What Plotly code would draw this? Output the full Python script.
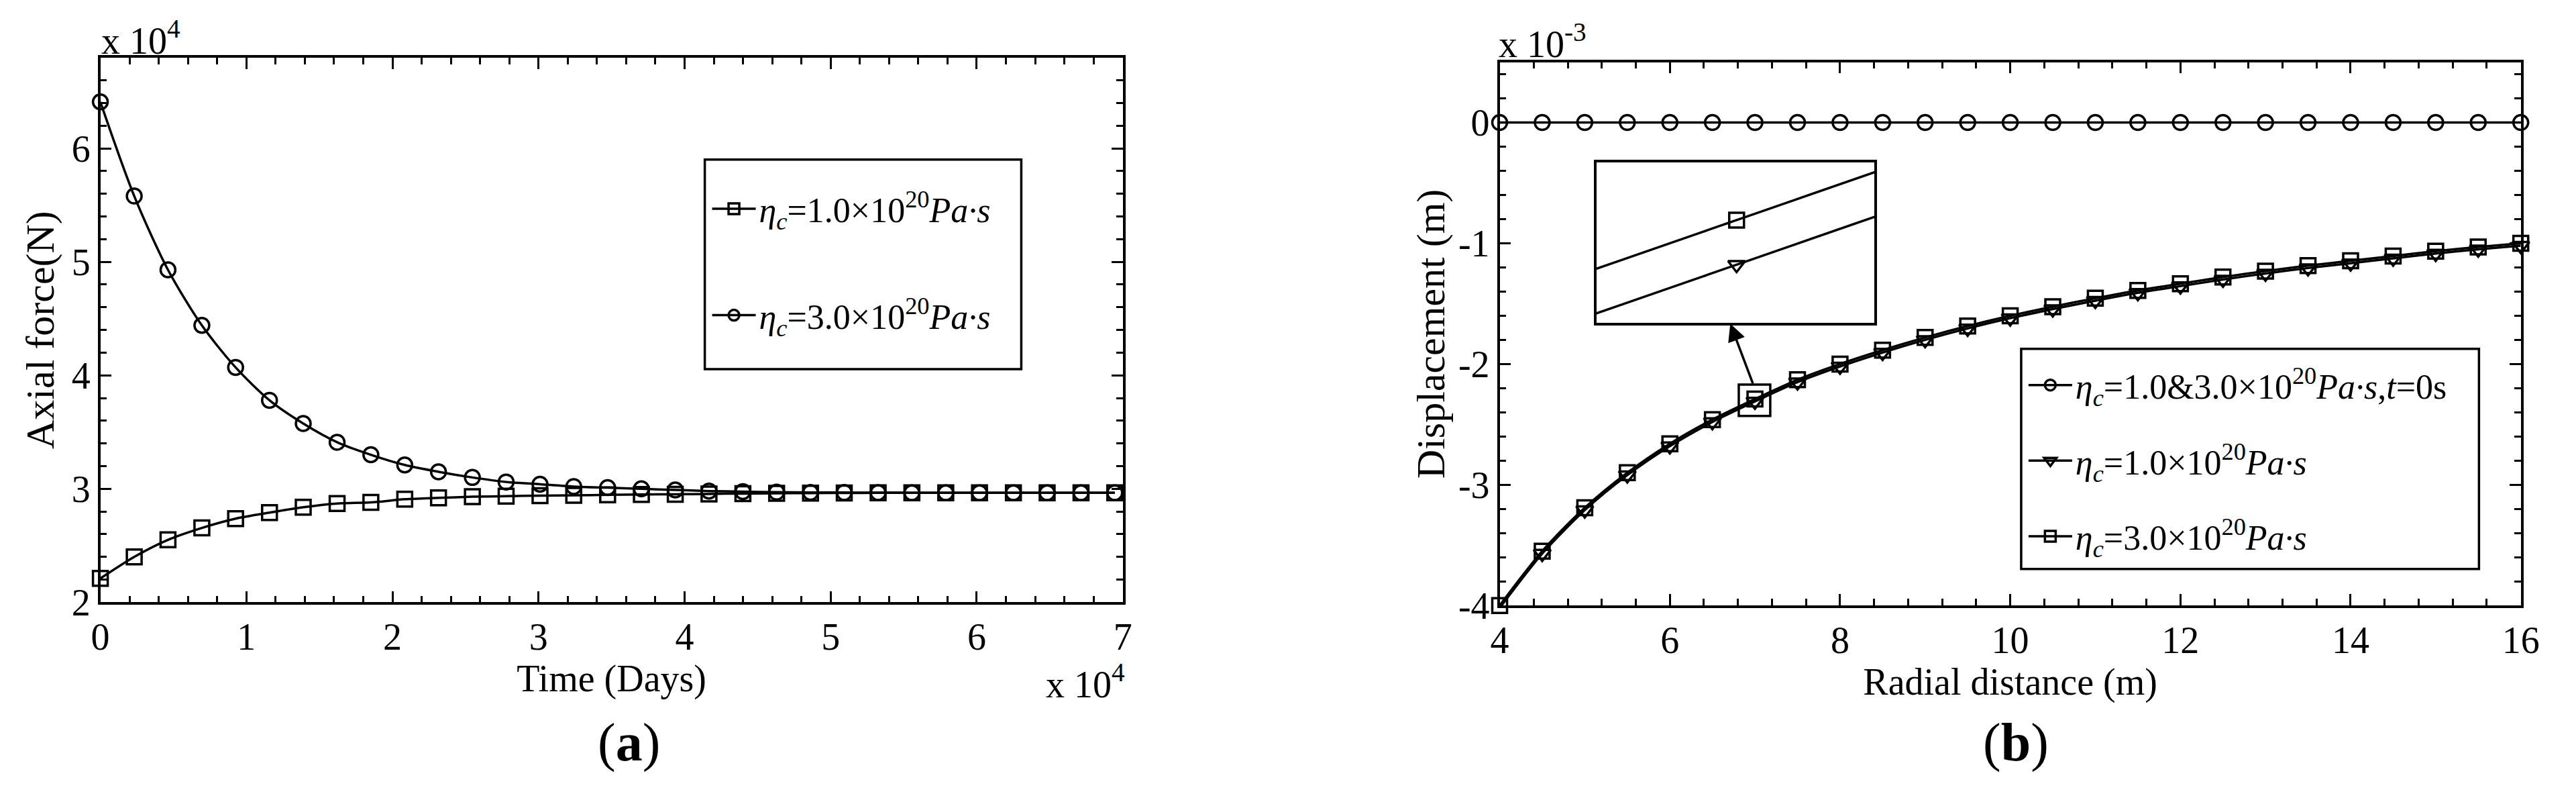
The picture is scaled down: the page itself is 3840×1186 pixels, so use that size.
import plotly.graph_objects as go

SERIF = "Liberation Serif, Times New Roman, serif"

# ---- panel (a): axial force vs time (both axes in units of 1e4) ----
time_days = [0, 0.232, 0.463, 0.695, 0.926, 1.158, 1.389, 1.621, 1.852, 2.084,
             2.315, 2.547, 2.778, 3.010, 3.241, 3.473, 3.704, 3.936, 4.167, 4.399,
             4.630, 4.862, 5.093, 5.325, 5.556, 5.788, 6.019, 6.251, 6.482, 6.714, 6.945]
force_eta1 = [2.21, 2.40, 2.55, 2.655, 2.737, 2.79, 2.837, 2.87, 2.88, 2.908,
              2.92, 2.93, 2.935, 2.94, 2.942, 2.947, 2.95, 2.952, 2.955, 2.958,
              2.96, 2.962, 2.963, 2.964, 2.965, 2.965, 2.965, 2.965, 2.965, 2.965, 2.965]
force_eta3 = [6.41, 5.58, 4.93, 4.44, 4.07, 3.78, 3.575, 3.41, 3.30, 3.21,
              3.15, 3.10, 3.06, 3.04, 3.02, 3.01, 3.00, 2.99, 2.98, 2.975,
              2.97, 2.968, 2.967, 2.966, 2.965, 2.965, 2.965, 2.965, 2.965, 2.965, 2.965]
names_a = ["<i>η</i><sub><i>c</i></sub>=1.0×10<sup>20</sup><i>Pa·s</i>",
           "<i>η</i><sub><i>c</i></sub>=3.0×10<sup>20</sup><i>Pa·s</i>"]

# ---- panel (b): displacement vs radial distance (y in units of 1e-3) ----
radius = [4, 4.5, 5, 5.5, 6, 6.5, 7, 7.5, 8, 8.5, 9, 9.5, 10, 10.5, 11, 11.5,
          12, 12.5, 13, 13.5, 14, 14.5, 15, 15.5, 16]
disp_t0 = [0] * 25
disp_eta1 = [-4.02, -3.57, -3.21, -2.92, -2.68, -2.48, -2.31, -2.15, -2.02, -1.905,
             -1.80, -1.705, -1.62, -1.545, -1.475, -1.41, -1.355, -1.30, -1.25, -1.205,
             -1.165, -1.125, -1.085, -1.05, -1.02]
disp_eta3 = [-4.00, -3.55, -3.19, -2.90, -2.66, -2.46, -2.29, -2.13, -2.00, -1.885,
             -1.78, -1.685, -1.60, -1.525, -1.455, -1.39, -1.335, -1.28, -1.23, -1.185,
             -1.145, -1.105, -1.065, -1.03, -1.00]
names_b = ["<i>η</i><sub><i>c</i></sub>=1.0&amp;3.0×10<sup>20</sup><i>Pa·s</i>,<i>t</i>=0s",
           "<i>η</i><sub><i>c</i></sub>=1.0×10<sup>20</sup><i>Pa·s</i>",
           "<i>η</i><sub><i>c</i></sub>=3.0×10<sup>20</sup><i>Pa·s</i>"]
ytick_b = [-4, -3, -2, -1, 0]
ytext_b = ["-4", "-3", "-2", "-1", "0"]

W, H = 3840, 1186


def px(x):
    return x / W


def py(y):
    return 1 - y / H


def mk(symbol):
    return dict(symbol=symbol, size=22, color="black", line=dict(width=3.5, color="black"))


fig = go.Figure()

line = dict(color="black", width=3.5, shape="spline", smoothing=0.8)

fig.add_trace(go.Scatter(x=time_days, y=force_eta1, mode="lines+markers", name=names_a[0],
                         line=line, marker=mk("square-open"), cliponaxis=False,
                         legend="legend", legendgroup="a1", xaxis="x", yaxis="y"))
fig.add_trace(go.Scatter(x=time_days, y=force_eta3, mode="lines+markers", name=names_a[1],
                         line=line, marker=mk("circle-open"), cliponaxis=False,
                         legend="legend", legendgroup="a2", xaxis="x", yaxis="y"))

fig.add_trace(go.Scatter(x=radius, y=disp_t0, mode="lines+markers", name=names_b[0],
                         line=line, marker=mk("circle-open"), cliponaxis=False,
                         legend="legend2", legendgroup="b1", xaxis="x2", yaxis="y2"))
fig.add_trace(go.Scatter(x=radius, y=disp_eta1, mode="lines+markers", name=names_b[1],
                         line=line, marker=mk("triangle-down-open"), cliponaxis=False,
                         legend="legend2", legendgroup="b2", xaxis="x2", yaxis="y2"))
fig.add_trace(go.Scatter(x=radius, y=disp_eta3, mode="lines+markers", name=names_b[2],
                         line=line, marker=mk("square-open"), cliponaxis=False,
                         legend="legend2", legendgroup="b3", xaxis="x2", yaxis="y2"))

# inset: same two curves magnified around r = 7 m
for yy, sym in ((disp_eta1, "triangle-down-open"), (disp_eta3, "square-open")):
    fig.add_trace(go.Scatter(x=radius, y=yy, mode="lines+markers", showlegend=False,
                             line=line, marker=mk(sym), xaxis="x3", yaxis="y3"))

tickfont = dict(family=SERIF, size=56, color="black")
common = dict(showline=True, linecolor="black", linewidth=3.5, mirror="ticks",
              ticks="inside", ticklen=17, tickwidth=3, tickcolor="black",
              showgrid=False, zeroline=False, tickfont=tickfont)
ytitle_font = dict(family=SERIF, size=60, color="black")
xtitle_font = dict(family=SERIF, size=56, color="black")


def minor(d, t0):
    return dict(ticks="inside", ticklen=10, tickwidth=3, tickcolor="black",
                tickmode="linear", tick0=t0, dtick=d, showgrid=False)


fig.update_layout(
    width=W, height=H, autosize=False,
    margin=dict(l=0, r=0, t=0, b=0),
    paper_bgcolor="white", plot_bgcolor="white",
    font=dict(family=SERIF, color="black"),
    xaxis=dict(domain=[px(129), px(1670)], range=[0, 7], dtick=1, anchor="y",
               minor=minor(0.2, 0),
               title=dict(text="Time (Days)", font=xtitle_font, standoff=8),
               **common),
    yaxis=dict(domain=[py(914), py(80)], range=[2, 6.8], dtick=1, anchor="x",
               minor=minor(0.2, 2),
               title=dict(text="Axial force(N)", font=ytitle_font, standoff=8),
               **common),
    xaxis2=dict(domain=[px(2238), px(3777)], range=[4, 16], dtick=2, anchor="y2",
                minor=minor(0.4, 4),
                title=dict(text="Radial distance (m)", font=xtitle_font, standoff=8),
                **common),
    yaxis2=dict(domain=[py(919), py(87)], range=[-4, 0.5], tickmode="array",
                tickvals=ytick_b, ticktext=ytext_b, anchor="x2",
                minor=minor(0.2, 0),
                title=dict(text="Displacement (m)", font=ytitle_font, standoff=2),
                **common),
    xaxis3=dict(domain=[px(2384), px(2803)], range=[6.934, 7.065], anchor="y3",
                showline=True, mirror=True, linecolor="black", linewidth=3.5,
                showticklabels=False, ticks="", showgrid=False, zeroline=False),
    yaxis3=dict(domain=[py(486), py(240)], range=[-2.336, -2.264], anchor="x3",
                showline=True, mirror=True, linecolor="black", linewidth=3.5,
                showticklabels=False, ticks="", showgrid=False, zeroline=False),
    legend=dict(x=px(1046), y=py(270), xanchor="left", yanchor="top",
                bgcolor="rgba(0,0,0,0)", borderwidth=0, itemwidth=65,
                tracegroupgap=88, font=dict(family=SERIF, size=52, color="black")),
    legend2=dict(x=px(3030), y=py(540), xanchor="left", yanchor="top",
                 bgcolor="rgba(0,0,0,0)", borderwidth=0, itemwidth=65,
                 tracegroupgap=42, font=dict(family=SERIF, size=52, color="black")),
)

# legend frames
for x0, y0, x1, y1 in ((1040, 236, 1517, 557), (3024, 526, 3714, 863)):
    fig.add_shape(type="rect", xref="paper", yref="paper",
                  x0=px(x0), x1=px(x1), y0=py(y1), y1=py(y0),
                  line=dict(color="black", width=3.5), fillcolor="rgba(0,0,0,0)")

# box around the magnified point and arrow to the inset
rz, uz = radius[6], disp_eta3[6]
fig.add_shape(type="rect", xref="x2", yref="y2", x0=rz - 0.19, x1=rz + 0.18,
              y0=uz - 0.14, y1=uz + 0.12, line=dict(color="black", width=3.5))
fig.add_annotation(xref="x2", yref="y2", axref="x2", ayref="y2",
                   x=6.71, y=-1.665, ax=6.98, ay=uz + 0.12, text="",
                   showarrow=True, arrowhead=2, arrowsize=1.5, arrowwidth=3.5,
                   arrowcolor="black", standoff=0, startstandoff=0)

# exponent labels and captions
ann = dict(showarrow=False, xref="paper", yref="paper",
           font=dict(family=SERIF, size=56, color="black"))
fig.add_annotation(text="x 10<sup>4</sup>", x=px(128), y=py(88), xanchor="left", yanchor="bottom", **ann)
fig.add_annotation(text="x 10<sup>4</sup>", x=px(1675), y=py(1074), xanchor="right", yanchor="bottom", **ann)
fig.add_annotation(text="x 10<sup>-3</sup>", x=px(2234), y=py(94), xanchor="left", yanchor="bottom", **ann)

cap = dict(showarrow=False, xref="paper", yref="paper",
           font=dict(family=SERIF, size=80, color="black"))
fig.add_annotation(text="(<b>a</b>)", x=px(926), y=py(1129), xanchor="center", yanchor="middle", **cap)
fig.add_annotation(text="(<b>b</b>)", x=px(3016), y=py(1129), xanchor="center", yanchor="middle", **cap)

fig.write_html("out.html")
